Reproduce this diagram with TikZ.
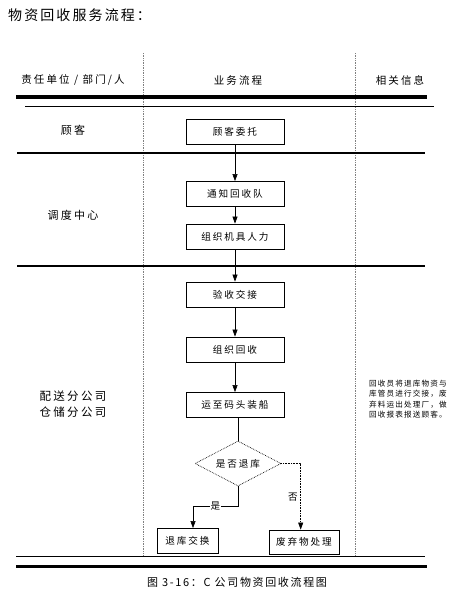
\documentclass[tikz,border=0pt]{standalone}
\usepackage{fontspec}
\setmainfont{Noto Sans CJK SC}
\newfontfamily\cjk[LetterSpace=20]{Noto Sans CJK SC}
\newfontfamily\cjkt[LetterSpace=15]{Noto Sans CJK SC}
\usetikzlibrary{arrows.meta,shapes.geometric}
\tikzset{
  box/.style={draw, line width=0.8pt, minimum width=98pt, minimum height=25pt, inner sep=0pt, font=\fontsize{9.6}{11}\cjk},
  flow/.style={-{Triangle[length=7pt,width=5pt]}, line width=0.6pt},
  lanelabel/.style={font=\fontsize{11}{13}\cjk, inner sep=0pt},
  head/.style={font=\fontsize{10.5}{12}\cjk, inner sep=0pt},
  sepline/.style={densely dotted, gray, line width=0.7pt},
}
\begin{document}
\begin{tikzpicture}[x=1pt,y=-1pt]
\useasboundingbox (0,0) rectangle (458,597);
% title
\node[anchor=west, font=\fontsize{14}{16}\cjkt, inner sep=0pt] (title) at (8,15) {物资回收服务流程：};
% separators
\coordinate (v1t) at (143,53); \coordinate (v1b) at (143,556);
\coordinate (v2t) at (355,53); \coordinate (v2b) at (355,556);
\draw[sepline] (v1t) -- (v1b);
\draw[sepline] (v2t) -- (v2b);
% headers
\node[head] (h1) at (73,80) {责任单位 / 部门/人};
\node[head] (h2) at (238,80) {业务流程};
\node[head] (h3) at (400,80) {相关信息};
% horizontal lines
\coordinate (a1) at (16,97); \coordinate (a2) at (427,97);
\draw[line width=4pt] (a1) -- (a2);
\coordinate (b1) at (25,106); \coordinate (b2) at (434,106);
\draw[line width=1pt] (b1) -- (b2);
\coordinate (c1) at (17,152.7); \coordinate (c2) at (425,152.7);
\draw[line width=2pt] (c1) -- (c2);
\coordinate (d1) at (17,265.7); \coordinate (d2) at (425,265.7);
\draw[line width=2pt] (d1) -- (d2);
\coordinate (e1) at (16,556.7); \coordinate (e2) at (425,556.7);
\draw[line width=1.5pt] (e1) -- (e2);
\coordinate (f1) at (16,566.7); \coordinate (f2) at (427,566.7);
\draw[line width=3pt] (f1) -- (f2);
% lane labels
\node[lanelabel] (l1) at (73,130) {顾客};
\node[lanelabel] (l2) at (73,215) {调度中心};
\node[lanelabel, align=center, font=\fontsize{11.5}{16}\cjk] (l3) at (73,404) {配送分公司\\仓储分公司};
% info
\node[anchor=north west, align=left, inner sep=0pt, font=\fontsize{7.6}{10.3}\cjkt] (info) at (369,380) {回收员将退库物资与\\库管员进行交接，废\\弃料运出处理厂，做\\回收报表报送顾客。};
% boxes
\node[box] (n1) at (235,132) {顾客委托};
\node[box] (n2) at (235,194) {通知回收队};
\node[box] (n3) at (235,236.5) {组织机具人力};
\node[box] (n4) at (235,294.5) {验收交接};
\node[box] (n5) at (235,349.5) {组织回收};
\node[box] (n6) at (235,405) {运至码头装船};
\node[draw, diamond, densely dotted, line width=0.7pt, minimum width=86pt, minimum height=45pt, inner sep=0pt, shape aspect=1.9, font=\fontsize{9.6}{11}\cjk] (d) at (238,463.5) {是否退库};
\node[box, minimum width=61pt] (n7) at (187.5,541) {退库交换};
\node[box, minimum width=70pt, minimum height=24pt] (n8) at (304,542) {废弃物处理};
% connectors
\draw[flow] (n1) -- (n2);
\draw[flow] (n2) -- (n3);
\draw[flow] (n3) -- (n4);
\draw[flow] (n4) -- (n5);
\draw[flow] (n5) -- (n6);
\draw[line width=0.6pt] (n6.south -| d.north) -- (d.north);
\coordinate (yes) at (193,506);
\draw[flow] (d.south) -- (d.south |- yes) -- node[fill=white, inner sep=1pt, font=\fontsize{9.6}{11}\cjk] (ylab) {是} (yes) -- (yes |- n7.north);
\coordinate (no) at (300.7,463.5);
\draw[flow, densely dotted] (d.east) -- (no) -- (no |- n8.north);
\node[font=\fontsize{9.6}{11}\cjk, inner sep=0pt] (nlab) at (293,497) {否};
% caption
\node[font=\fontsize{11}{13}\cjkt, inner sep=0pt] (cap) at (237,582) {图 3-16：C 公司物资回收流程图};
\end{tikzpicture}
\end{document}
